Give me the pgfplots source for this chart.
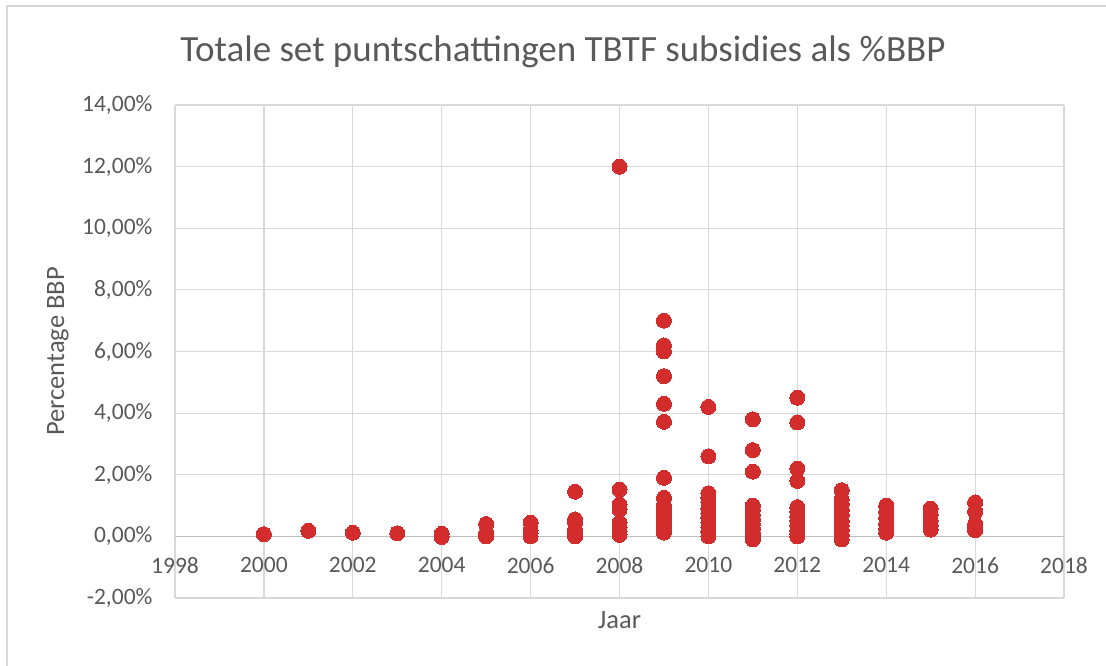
\documentclass[border=0pt]{standalone}
\usepackage{fontspec}
\setmainfont{Carlito}
\usepackage{pgfplots}
\pgfplotsset{compat=1.18}
\definecolor{txt}{HTML}{595959}
\definecolor{gridc}{HTML}{D9D9D9}
\definecolor{zeroc}{HTML}{BFBFBF}
\definecolor{dotred}{RGB}{211,44,44}
\begin{document}
\begin{tikzpicture}[x=1pt,y=1pt]
  \path[use as bounding box] (0,0) rectangle (1106,666);
  % chart area border (only top and left are inside the crop)
  \draw[gridc, line width=1.2pt] (7,-5) -- (7,660) -- (1120,660);
  \node[anchor=base, text=txt, font=\fontsize{37}{42}\selectfont] at (563,604)
    {Totale set puntschattingen TBTF subsidies als \%BBP};
  \begin{axis}[
      at={(175pt,68pt)}, anchor=south west,
      scale only axis,
      width=889pt, height=493pt,
      xmin=1998, xmax=2018,
      ymin=-2, ymax=14,
      xtick={1998,2000,...,2018},
      xticklabels={1998,2000,2002,2004,2006,2008,2010,2012,2014,2016,2018},
      ytick={-2,0,...,14},
      yticklabels={{-2,00\%},{0,00\%},{2,00\%},{4,00\%},{6,00\%},{8,00\%},{10,00\%},{12,00\%},{14,00\%}},
      extra y ticks={0},
      extra y tick labels={},
      extra y tick style={grid style={zeroc, line width=1.6pt}},
      major tick length=0pt,
      axis line style={draw=none},
      grid=major,
      grid style={gridc, line width=1.2pt},
      tick label style={text=txt, font=\fontsize{23.5}{28}\selectfont},
      xticklabel style={yshift=44pt},
      yticklabel style={xshift=-19pt},
      xlabel={Jaar}, ylabel={Percentage BBP},
      every axis x label/.style={at={(rel axis cs:0.5,0)}, yshift=-22pt, anchor=center,
        text=txt, font=\fontsize{26.5}{31}\selectfont},
      every axis y label/.style={at={(rel axis cs:0,0.5)}, xshift=-117pt, rotate=90, anchor=center,
        text=txt, font=\fontsize{26.5}{31}\selectfont},
      clip=false,
    ]
    \addplot[only marks, color=dotred, mark=*, mark size=7.5pt,
             mark options={draw=dotred, fill=dotred, line width=0pt}] coordinates {
      (2000,0.07)
      (2001,0.18)
      (2002,0.12)
      (2003,0.10)
      (2004,0.08)(2004,-0.02)
      (2005,0.40)(2005,0.10)(2005,0.0)
      (2006,0.45)(2006,0.2)(2006,0.1)(2006,0.0)
      (2007,1.45)(2007,0.55)(2007,0.45)(2007,0.2)(2007,0.05)(2007,0.0)
      (2008,12.0)(2008,1.52)(2008,1.03)(2008,0.87)(2008,0.44)(2008,0.28)(2008,0.15)(2008,0.05)
      (2009,7.0)(2009,6.2)(2009,6.0)(2009,5.2)(2009,4.3)(2009,3.72)(2009,1.9)(2009,1.25)
      (2009,1.0)(2009,0.85)(2009,0.7)(2009,0.55)(2009,0.4)(2009,0.3)(2009,0.2)(2009,0.12)
      (2010,4.2)(2010,2.6)(2010,1.4)(2010,1.25)(2010,1.1)(2010,0.9)(2010,0.75)(2010,0.6)
      (2010,0.45)(2010,0.3)(2010,0.15)(2010,0.0)
      (2011,3.8)(2011,2.8)(2011,2.1)(2011,1.0)(2011,0.85)(2011,0.7)(2011,0.55)(2011,0.4)
      (2011,0.25)(2011,0.1)(2011,0.0)(2011,-0.1)
      (2012,4.5)(2012,3.7)(2012,2.2)(2012,1.8)(2012,0.95)(2012,0.8)(2012,0.65)(2012,0.5)
      (2012,0.35)(2012,0.2)(2012,0.1)(2012,0.0)
      (2013,1.5)(2013,1.2)(2013,1.05)(2013,0.85)(2013,0.7)(2013,0.5)(2013,0.35)(2013,0.2)
      (2013,0.05)(2013,-0.1)
      (2014,1.0)(2014,0.8)(2014,0.6)(2014,0.4)(2014,0.25)(2014,0.12)
      (2015,0.9)(2015,0.7)(2015,0.5)(2015,0.35)(2015,0.22)
      (2016,1.1)(2016,0.8)(2016,0.4)(2016,0.3)(2016,0.2)
    };
  \end{axis}
\end{tikzpicture}
\end{document}
